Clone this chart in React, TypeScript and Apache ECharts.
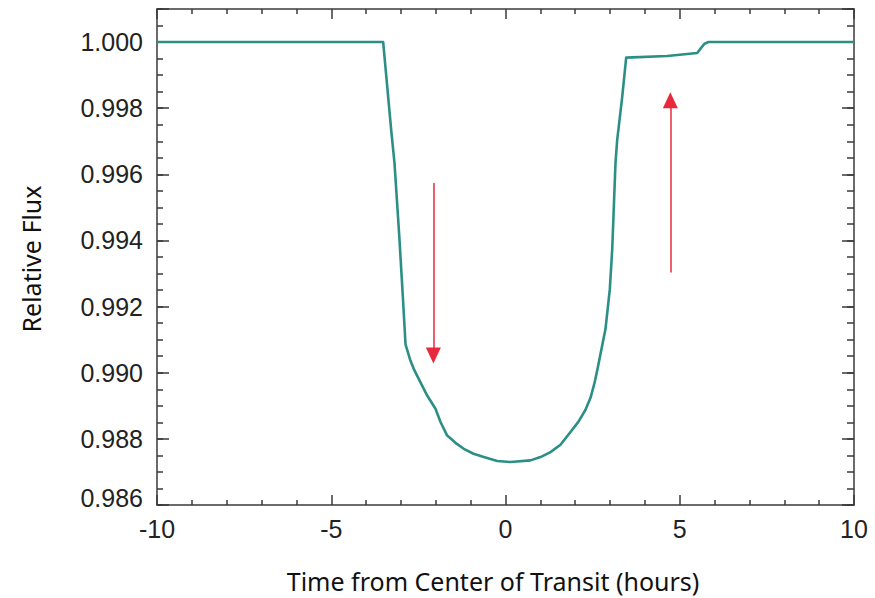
import React, { useEffect, useRef } from "react";
import * as echarts from "echarts";

// Light curve (time from center of transit in hours, relative flux)
const timeHours = [
  -10, -3.51, -3.28, -3.185, -3.042, -2.947, -2.869, -2.726, -2.631, -2.439, -2.247, -2.009,
  -1.865, -1.673, -1.435, -1.197, -0.918, -0.623, -0.238, 0.143, 0.717, 1.004, 1.291, 1.578,
  1.865, 2.095, 2.296, 2.439, 2.554, 2.64, 2.869, 2.993, 3.062, 3.156, 3.205, 3.349, 3.463,
  4.64, 5.501, 5.595, 5.71, 5.825, 10,
];
const relFlux = [
  1.0, 1.0, 0.99734, 0.99634, 0.99403, 0.99232, 0.99086, 0.99036, 0.99011, 0.98971, 0.98931,
  0.98891, 0.98851, 0.9881, 0.98788, 0.9877, 0.98755, 0.98745, 0.98733, 0.9873, 0.98735,
  0.98745, 0.9876, 0.98782, 0.98821, 0.98852, 0.98888, 0.98924, 0.98969, 0.99011, 0.99132,
  0.99252, 0.99373, 0.99634, 0.99704, 0.99834, 0.99953, 0.99958, 0.99967, 0.9998, 0.99995,
  1.0, 1.0,
];

// Red arrows: x position, start flux, end flux
const arrowX = [-2.07, 4.73];
const arrowFrom = [0.99574, 0.99303];
const arrowTo = [0.99052, 0.99824];

const xTicks = [-10, -5, 0, 5, 10];
const yTicks = [0.986, 0.988, 0.99, 0.992, 0.994, 0.996, 0.998, 1.0];

const AXIS_COLOR = "#3a3a3a";

export default function App() {
  const ref = useRef<HTMLDivElement>(null);
  useEffect(() => {
    if (!ref.current) return;
    const chart = echarts.init(ref.current, undefined, { renderer: "svg" });
    const data = timeHours.map((t, i) => [t, relFlux[i]]);
    const xMin = xTicks[0];
    const xMax = xTicks[xTicks.length - 1];
    const yMin = yTicks[0];
    const yMax = 1.001;
    const baseX = {
      type: "value",
      min: xMin,
      max: xMax,
      interval: 5,
      splitLine: { show: false },
      axisLine: { show: true, onZero: false, lineStyle: { color: AXIS_COLOR, width: 1.5 } },
      axisTick: { show: true, inside: true, length: 10, lineStyle: { color: AXIS_COLOR, width: 1.5 } },
      minorTick: { show: true, splitNumber: 5, length: 5, lineStyle: { color: AXIS_COLOR, width: 1.5 } },
    };
    const baseY = {
      type: "value",
      min: yMin,
      max: yMax,
      splitLine: { show: false },
      axisLine: { show: false, onZero: false },
      axisLabel: { show: false },
    };
    chart.setOption({
      animation: false,
      backgroundColor: "#ffffff",
      grid: { left: 157, right: 21, top: 9, bottom: 93, containLabel: false },
      xAxis: [
        {
          ...baseX,
          position: "bottom",
          axisLabel: {
            show: true,
            margin: 11,
            color: "#222",
            fontFamily: "Liberation Sans, Arial, sans-serif",
            fontSize: 25,
            formatter: (v: number) => String(v),
          },
        },
        { ...baseX, position: "top", axisLabel: { show: false } },
      ],
      yAxis: [
        {
          ...baseY,
          position: "left",
          interval: 0.002,
          axisLine: { show: true, onZero: false, lineStyle: { color: AXIS_COLOR, width: 1.5 } },
          axisTick: { show: true, inside: true, length: 12, lineStyle: { color: AXIS_COLOR, width: 1.5 } },
          axisLabel: {
            show: true,
            margin: 14,
            color: "#222",
            fontFamily: "Liberation Sans, Arial, sans-serif",
            fontSize: 25,
            formatter: (v: number) => {
              if (v > 1.0005) return "";
              if (Math.abs(v - yMin) < 1e-6) return "{low|" + v.toFixed(3) + "}";
              return v.toFixed(3);
            },
            rich: {
              low: {
                fontFamily: "Liberation Sans, Arial, sans-serif",
                fontSize: 25,
                color: "#222",
                padding: [0, 0, 14, 0],
              },
            },
          },
        },
        {
          ...baseY,
          position: "left",
          interval: 0.0005,
          axisTick: { show: true, inside: true, length: 6, lineStyle: { color: AXIS_COLOR, width: 1.5 } },
        },
        {
          ...baseY,
          position: "right",
          interval: 0.002,
          axisLine: { show: true, onZero: false, lineStyle: { color: AXIS_COLOR, width: 1.5 } },
          axisTick: { show: true, inside: true, length: 12, lineStyle: { color: AXIS_COLOR, width: 1.5 } },
        },
        {
          ...baseY,
          position: "right",
          interval: 0.0005,
          axisTick: { show: true, inside: true, length: 7, lineStyle: { color: AXIS_COLOR, width: 1.5 } },
        },
      ],
      graphic: [
        {
          type: "text",
          x: 493,
          y: 581,
          style: {
            text: "Time from Center of Transit (hours)",
            fontFamily: "Noto Sans, Open Sans, sans-serif",
            fontSize: 25,
            fill: "#111",
            align: "center",
            verticalAlign: "middle",
          },
        },
        {
          type: "text",
          x: 31,
          y: 259,
          rotation: Math.PI / 2,
          style: {
            text: "Relative Flux",
            fontFamily: "Noto Sans, Open Sans, sans-serif",
            fontSize: 25,
            fill: "#111",
            align: "center",
            verticalAlign: "middle",
          },
        },
      ],
      series: [
        {
          type: "line",
          xAxisIndex: 0,
          yAxisIndex: 0,
          data,
          showSymbol: false,
          symbol: "none",
          smooth: false,
          clip: true,
          lineStyle: { color: "#2b8f86", width: 2.6, join: "round" },
          markLine: {
            silent: true,
            animation: false,
            symbol: ["none", "triangle"],
            symbolSize: [15, 16],
            label: { show: false },
            lineStyle: { color: "#e8283c", width: 1.5, type: "solid" },
            data: arrowX.map((x, i) => [
              { coord: [x, arrowFrom[i]] },
              { coord: [x, arrowTo[i]] },
            ]),
          },
        },
      ],
    });
    return () => chart.dispose();
  }, []);
  return (
    <div
      ref={ref}
      style={{ position: "fixed", left: 0, top: 0, width: 875, height: 598 }}
    />
  );
}
